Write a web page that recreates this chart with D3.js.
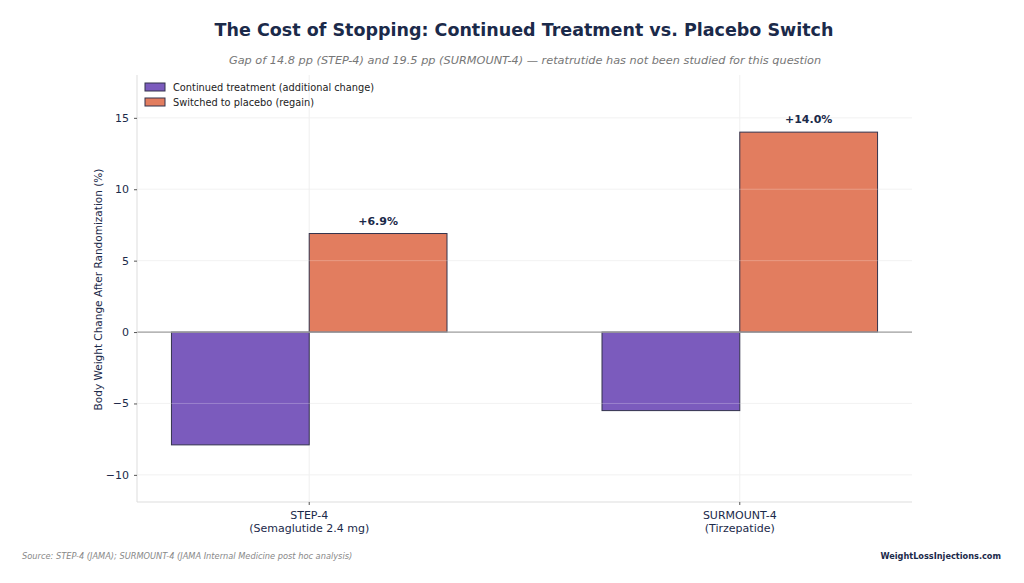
<!DOCTYPE html>
<html>
<head>
<meta charset="utf-8">
<script src="https://cdn.jsdelivr.net/npm/d3@7"></script>
<style>
  body { margin: 0; background: #fff; }
  svg { font-family: "DejaVu Sans", sans-serif; }
</style>
</head>
<body>
<svg id="svg"></svg>
<script>
var w = 1024, h = 583

// chart data
var trials = ["STEP-4", "SURMOUNT-4"]
var drugs = ["(Semaglutide 2.4 mg)", "(Tirzepatide)"]
var seriesNames = ["Continued treatment (additional change)", "Switched to placebo (regain)"]
var continued = [-7.9, -5.5]
var placebo = [6.9, 14.0]
var yTicks = [-10, -5, 0, 5, 10, 15]

var colors = ["#7b5bbd", "#e27d5f"]
var navy = "#1b2a4a"

var m = {left: 137, right: 912, top: 75, bottom: 502}

var svg = d3.select("#svg").attr("width", w).attr("height", h)

var x = d3.scaleLinear().domain([-0.4, 1.4]).range([m.left, m.right])
var y = d3.scaleLinear().domain([-11.9, 18]).range([m.bottom, m.top])
var bw = 0.32

// grid
var g = svg.append("g")
g.selectAll("line.hg").data(yTicks).enter().append("line")
    .attr("x1", m.left).attr("x2", m.right)
    .attr("y1", function(d){return y(d)}).attr("y2", function(d){return y(d)})
    .attr("stroke", "#ececec").attr("stroke-width", 0.8)
g.selectAll("line.vg").data(trials).enter().append("line")
    .attr("x1", function(d, i){return x(i)}).attr("x2", function(d, i){return x(i)})
    .attr("y1", m.top).attr("y2", m.bottom)
    .attr("stroke", "#ececec").attr("stroke-width", 0.8)

// bars
var series = [continued, placebo]
series.forEach(function(vals, s) {
    svg.append("g").selectAll("rect").data(vals).enter().append("rect")
        .attr("x", function(d, i){return x(i + (s == 0 ? -bw : 0))})
        .attr("width", x(bw) - x(0))
        .attr("y", function(d){return y(Math.max(0, d))})
        .attr("height", function(d){return Math.abs(y(d) - y(0))})
        .attr("fill", colors[s])
        .attr("stroke", "#33334d")
        .attr("stroke-width", 1)
})

// grid lines show faintly over the bars
svg.append("g").selectAll("line").data(yTicks).enter().append("line")
    .attr("x1", m.left).attr("x2", m.right)
    .attr("y1", function(d){return y(d)}).attr("y2", function(d){return y(d)})
    .attr("stroke", "#ffffff").attr("stroke-opacity", 0.3).attr("stroke-width", 0.8)

// zero line
svg.append("line")
    .attr("x1", m.left).attr("x2", m.right)
    .attr("y1", y(0)).attr("y2", y(0))
    .attr("stroke", "#a0a0a0").attr("stroke-width", 1.2)

// value labels on placebo bars
svg.append("g").selectAll("text").data(placebo).enter().append("text")
    .attr("x", function(d, i){return x(i + bw / 2)})
    .attr("y", function(d){return y(d) - 9})
    .attr("text-anchor", "middle")
    .attr("font-size", 11).attr("font-weight", "bold").attr("fill", navy)
    .text(function(d){return "+" + d.toFixed(1) + "%"})

// spines
svg.append("line").attr("x1", m.left).attr("x2", m.left).attr("y1", m.top).attr("y2", m.bottom)
    .attr("stroke", "#dddddd").attr("stroke-width", 1)
svg.append("line").attr("x1", m.left).attr("x2", m.right).attr("y1", m.bottom).attr("y2", m.bottom)
    .attr("stroke", "#dddddd").attr("stroke-width", 1)

// y axis
var yAxis = svg.append("g").attr("transform", "translate(" + m.left + ",0)")
    .call(d3.axisLeft(y).tickValues(yTicks).tickSize(3).tickPadding(5)
        .tickFormat(function(d){return d < 0 ? "\u2212" + Math.abs(d) : d}))
yAxis.select(".domain").remove()
yAxis.selectAll("line").attr("stroke", "#555")
yAxis.selectAll("text").attr("font-size", 11).attr("fill", navy).attr("font-family", "DejaVu Sans")

svg.append("text")
    .attr("transform", "translate(102," + ((m.top + m.bottom) / 2 + 1) + ") rotate(-90)")
    .attr("text-anchor", "middle").attr("font-size", 10.5).attr("fill", navy)
    .text("Body Weight Change After Randomization (%)")

// x axis
var xa = svg.append("g")
xa.selectAll("line").data(trials).enter().append("line")
    .attr("x1", function(d, i){return x(i)}).attr("x2", function(d, i){return x(i)})
    .attr("y1", m.bottom).attr("y2", m.bottom + 3).attr("stroke", "#555")
xa.selectAll("text.t").data(trials).enter().append("text")
    .attr("x", function(d, i){return x(i)}).attr("y", m.bottom + 17)
    .attr("text-anchor", "middle").attr("font-size", 11).attr("fill", navy)
    .text(function(d){return d})
xa.selectAll("text.d").data(drugs).enter().append("text")
    .attr("x", function(d, i){return x(i)}).attr("y", m.bottom + 30)
    .attr("text-anchor", "middle").attr("font-size", 11).attr("fill", navy)
    .text(function(d){return d})

// legend
var lg = svg.append("g").attr("transform", "translate(145,83)")
seriesNames.forEach(function(n, i) {
    lg.append("rect").attr("x", 0).attr("y", i * 15).attr("width", 20).attr("height", 8)
        .attr("fill", colors[i]).attr("stroke", "#33334d").attr("stroke-width", 1)
    lg.append("text").attr("x", 28).attr("y", i * 15 + 8)
        .attr("font-size", 9.8).attr("fill", "#222").text(n)
})

// title
svg.append("text").attr("x", 524).attr("y", 36).attr("text-anchor", "middle")
    .attr("font-size", 17.5).attr("font-weight", "bold").attr("fill", navy)
    .text("The Cost of Stopping: Continued Treatment vs. Placebo Switch")
svg.append("text").attr("x", 525).attr("y", 64).attr("text-anchor", "middle")
    .attr("font-size", 11.3).attr("font-style", "italic").attr("fill", "#777")
    .text("Gap of 14.8 pp (STEP-4) and 19.5 pp (SURMOUNT-4) \u2014 retatrutide has not been studied for this question")

// footer
svg.append("text").attr("x", 22).attr("y", 559)
    .attr("font-size", 8.25).attr("font-style", "italic").attr("fill", "#888")
    .text("Source: STEP-4 (JAMA); SURMOUNT-4 (JAMA Internal Medicine post hoc analysis)")
svg.append("text").attr("x", 1001).attr("y", 559).attr("text-anchor", "end")
    .attr("font-size", 8.2).attr("font-weight", "bold").attr("fill", navy)
    .text("WeightLossInjections.com")
</script>
</body>
</html>
